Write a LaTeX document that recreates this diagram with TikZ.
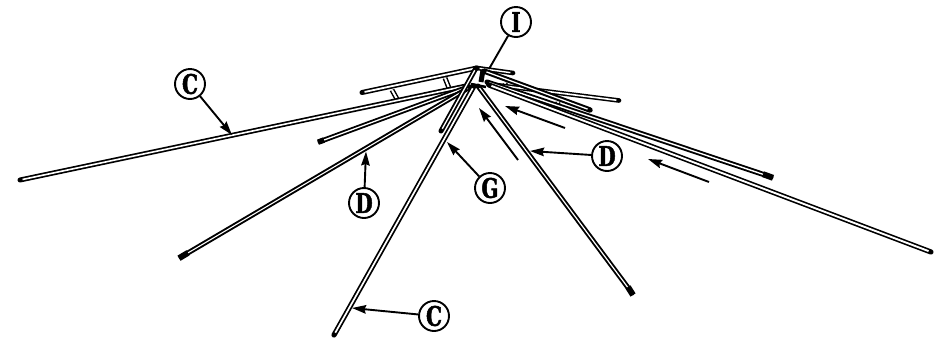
\documentclass[tikz,border=0pt]{standalone}
\usepackage{fontspec}
\newfontfamily\lab[FakeStretch=0.74,FakeBold=1.8]{DejaVu Serif Bold}
\usetikzlibrary{arrows.meta}
\tikzset{
  tubeo/.style={line width=#1,black,line cap=round},
  tubei/.style={line width=#1,white,shorten <=2.6pt,shorten >=2.6pt},
  callout/.style={circle,draw,line width=1.9pt,minimum size=30pt,inner sep=0pt,font=\lab\fontsize{27}{27}\selectfont,fill=white},
  leader/.style={line width=1.9pt,-{Stealth[length=14pt,width=8.5pt,inset=1.5pt]}},
  plainleader/.style={line width=1.9pt},
  link/.style={line width=5pt,black},
  linki/.style={line width=2pt,white}
}
\newcommand{\tube}[4]{\draw[tubeo=#3] (#1) -- (#2); \draw[tubei=#4] (#1) -- (#2);}
\begin{document}
\begin{tikzpicture}[x=1pt,y=-1pt]
\useasboundingbox (0,0) rectangle (946,341);
% tube ends
\coordinate (hubA) at (477,68);
\coordinate (hubB) at (484,71);
\coordinate (ulEnd) at (362,92.5);
\coordinate (urEnd) at (513,73);
\coordinate (rsEnd) at (590,110);
\coordinate (rtEnd) at (619,100.5);
\coordinate (cLa) at (20,180);
\coordinate (cLb) at (466,86);
\coordinate (sLa) at (320,141.5);
\coordinate (sLb) at (468,87);
\coordinate (dLa) at (181,257);
\coordinate (dLb) at (470,87);
\coordinate (cDa) at (334,335);
\coordinate (cDb) at (474,86);
\coordinate (gEnd) at (441,131);
\coordinate (gTop) at (476,68);
\coordinate (dDa) at (632,293);
\coordinate (dDb) at (478,86);
\coordinate (cRa) at (931,252);
\coordinate (cRb) at (489,85);
\coordinate (dRa) at (771,177);
\coordinate (dRb) at (487,82);
\coordinate (rtStart) at (488,84);
% cross links
\coordinate (l1a) at (392,90); \coordinate (l1b) at (397,99);
\coordinate (l2a) at (445,78); \coordinate (l2b) at (449,88);
\coordinate (l3a) at (505,83); \coordinate (l3b) at (507,92);
\coordinate (l4a) at (558,102); \coordinate (l4b) at (556,112);
\foreach \a/\b in {l1a/l1b,l2a/l2b,l3a/l3b,l4a/l4b}{
  \draw[link] (\a) -- (\b);
  \draw[linki] (\a) -- (\b);
}
% upper frame
\tube{ulEnd}{hubA}{5pt}{1.8pt}
\tube{hubA}{urEnd}{4.6pt}{1.4pt}
\tube{rtStart}{rtEnd}{4.6pt}{1.6pt}
\tube{hubB}{rsEnd}{5.4pt}{1.3pt}
% long rods
\tube{cLa}{cLb}{5pt}{1.6pt}
\tube{sLa}{sLb}{5pt}{1.3pt}
\tube{dLa}{dLb}{5pt}{1.1pt}
\tube{gEnd}{gTop}{5pt}{1.3pt}
\tube{cDa}{cDb}{5.2pt}{1.7pt}
\tube{dDa}{dDb}{5pt}{1.2pt}
\tube{dRa}{dRb}{5.2pt}{1.4pt}
\tube{cRa}{cRb}{5.2pt}{1.9pt}
% end blocks
\draw[line width=6pt] (179,258.2) -- +(9,-5.4);
\draw[line width=6pt] (633,295) -- +(-5,-8);
\draw[line width=6pt] (773,177.8) -- +(-10,-3.6);
\draw[line width=5.5pt] (318,142.2) -- +(6,-2.2);
% hub
\draw[line width=5pt] (483,70) -- (481,82);
\draw[line width=2.5pt] (471,84) -- (486,87);
% callouts
\node[callout] (nI) at (516,22) {I};
\node[callout] (nCa) at (190,84) {C};
\node[callout] (nDa) at (364,203) {D};
\node[callout] (nCb) at (434,316) {C};
\node[callout] (nG) at (490,188) {G};
\node[callout] (nDb) at (607,156) {D};
\coordinate (tI) at (489,69);
\coordinate (tCa) at (232,135);
\coordinate (tDa) at (366,151.5);
\coordinate (tCb) at (352,308);
\coordinate (tG) at (447,142);
\coordinate (tDb) at (530,151);
\draw[plainleader] (nI) -- (tI);
\draw[leader] (nCa) -- (tCa);
\draw[leader] (nDa) -- (tDa);
\draw[leader] (nCb) -- (tCb);
\draw[leader] (nG) -- (tG);
\draw[leader] (nDb) -- (tDb);
% direction arrows
\coordinate (m1a) at (565,128); \coordinate (m1b) at (505,106);
\coordinate (m2a) at (518,160); \coordinate (m2b) at (479,108);
\coordinate (m3a) at (709,182); \coordinate (m3b) at (648,159);
\draw[leader] (m1a) -- (m1b);
\draw[leader] (m2a) -- (m2b);
\draw[leader] (m3a) -- (m3b);
\end{tikzpicture}
\end{document}
